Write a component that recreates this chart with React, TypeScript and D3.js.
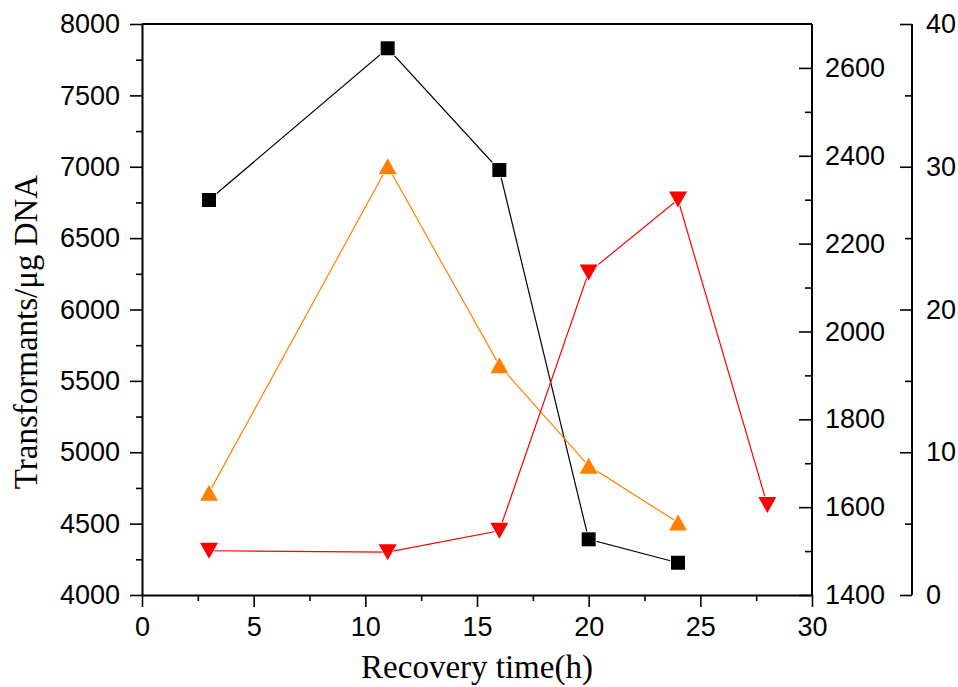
import React, { useEffect, useRef } from 'react';
import * as d3 from 'd3';

// recovery time (h)
const hours = [3, 11, 16, 20, 24];
const redHours = [3, 11, 16, 20, 24, 28];

// series values, one per axis
const blackValues = [6767, 7830, 6977, 4390, 4226];
const orangeValues = [1633, 2376, 1923, 1694, 1565];
const redValues = [3.1, 3.0, 4.5, 22.6, 27.7, 6.3];

// tick values
const xTicks = [0, 5, 10, 15, 20, 25, 30];
const leftTicks = [4000, 4500, 5000, 5500, 6000, 6500, 7000, 7500, 8000];
const midTicks = [1400, 1600, 1800, 2000, 2200, 2400, 2600];
const farTicks = [0, 10, 20, 30, 40];

const SANS = '"Liberation Sans", Arial, sans-serif';
const SERIF = '"Liberation Serif", "Times New Roman", serif';

const App = () => {
  const ref = useRef<SVGSVGElement>(null);

  useEffect(() => {
    const svg = d3.select(ref.current);
    svg.selectAll('*').remove();

    const left = 142, right = 812, top = 24, bottom = 595, farX = 912;
    const fmt = d3.format('d');

    const x = d3.scaleLinear().domain([0, 30]).range([left, right]);
    const yL = d3.scaleLinear().domain([4000, 8000]).range([bottom, top]);
    const yM = d3.scaleLinear().domain([1400, 2700]).range([bottom, top]);
    const yR = d3.scaleLinear().domain([0, 40]).range([bottom, top]);

    const styleAxis = (g, size = 27) => {
      g.select('.domain').attr('stroke-width', 2);
      g.selectAll('line').attr('stroke-width', 1.6);
      g.selectAll('text').style('font-family', SANS).style('font-size', `${size}px`).attr('fill', '#000');
    };

    // x axis with minor ticks
    svg.append('g')
      .attr('transform', `translate(0,${bottom})`)
      .call(d3.axisBottom(x).tickValues(d3.range(2.5, 30, 5)).tickSize(6).tickFormat(() => ''))
      .call(g => g.select('.domain').remove())
      .call(g => g.selectAll('line').attr('stroke-width', 1.6));
    svg.append('g')
      .attr('transform', `translate(0,${bottom})`)
      .call(d3.axisBottom(x).tickValues(xTicks).tickFormat(fmt).tickSizeInner(12).tickSizeOuter(0).tickPadding(10))
      .call(g => styleAxis(g));

    // left axis
    svg.append('g')
      .attr('transform', `translate(${left},0)`)
      .call(d3.axisLeft(yL).tickValues(d3.range(4250, 8000, 500)).tickSize(6).tickFormat(() => ''))
      .call(g => g.select('.domain').remove())
      .call(g => g.selectAll('line').attr('stroke-width', 1.6));
    svg.append('g')
      .attr('transform', `translate(${left},0)`)
      .call(d3.axisLeft(yL).tickValues(leftTicks).tickFormat(fmt).tickSizeInner(12).tickSizeOuter(0).tickPadding(10))
      .call(g => styleAxis(g));

    // top border
    svg.append('line')
      .attr('x1', left).attr('x2', right).attr('y1', top).attr('y2', top)
      .attr('stroke', '#000').attr('stroke-width', 2);

    // middle right axis: ticks inward, labels outside
    svg.append('g')
      .attr('transform', `translate(${right},0)`)
      .call(d3.axisLeft(yM).tickValues(d3.range(1500, 2700, 200)).tickSize(7).tickFormat(() => ''))
      .call(g => g.select('.domain').remove())
      .call(g => g.selectAll('line').attr('stroke-width', 1.6));
    svg.append('g')
      .attr('transform', `translate(${right},0)`)
      .call(d3.axisLeft(yM).tickValues(midTicks).tickSizeInner(13).tickSizeOuter(0).tickFormat(() => ''))
      .call(g => g.selectAll('line').attr('stroke-width', 1.6))
      .call(g => g.select('.domain').attr('d', `M0,${top}V${bottom}`).attr('stroke-width', 2));
    svg.append('g')
      .attr('transform', `translate(${right},0)`)
      .call(d3.axisRight(yM).tickValues(midTicks).tickFormat(fmt).tickSize(0).tickPadding(13))
      .call(g => g.select('.domain').remove())
      .call(g => styleAxis(g));

    // far right axis
    svg.append('g')
      .attr('transform', `translate(${farX},0)`)
      .call(d3.axisLeft(yR).tickValues(d3.range(5, 40, 10)).tickSize(7).tickFormat(() => ''))
      .call(g => g.select('.domain').remove())
      .call(g => g.selectAll('line').attr('stroke-width', 1.6));
    svg.append('g')
      .attr('transform', `translate(${farX},0)`)
      .call(d3.axisLeft(yR).tickValues(farTicks).tickSizeInner(12).tickSizeOuter(0).tickFormat(() => ''))
      .call(g => g.selectAll('line').attr('stroke-width', 1.6))
      .call(g => g.select('.domain').attr('d', `M0,${top}V${bottom}`).attr('stroke-width', 2));
    svg.append('g')
      .attr('transform', `translate(${farX},0)`)
      .call(d3.axisRight(yR).tickValues(farTicks).tickFormat(fmt).tickSize(0).tickPadding(14))
      .call(g => g.select('.domain').remove())
      .call(g => styleAxis(g));

    // axis titles
    svg.append('text')
      .attr('x', 477)
      .attr('y', 678)
      .attr('text-anchor', 'middle')
      .style('font-family', SERIF)
      .style('font-size', '33px')
      .text('Recovery time(h)');

    svg.append('text')
      .attr('transform', 'translate(37,332) rotate(-90)')
      .attr('text-anchor', 'middle')
      .style('font-family', SERIF)
      .style('font-size', '33px')
      .text('Transformants/μg DNA');

    // series
    const series = [
      { xs: hours, ys: blackValues, scale: yL, color: '#000000', shape: 'square' },
      { xs: hours, ys: orangeValues, scale: yM, color: '#FF8000', shape: 'up' },
      { xs: redHours, ys: redValues, scale: yR, color: '#FF0000', shape: 'down' },
    ];

    const shapes = {
      square: 'M-7,-7H7V7H-7Z',
      up: 'M0,-8L9,8L-9,8Z',
      down: 'M0,8L9,-8L-9,-8Z',
    };

    series.forEach(s => {
      const pts = s.xs.map((h, i) => [x(h), s.scale(s.ys[i])] as [number, number]);
      svg.append('path')
        .datum(pts)
        .attr('fill', 'none')
        .attr('stroke', s.color)
        .attr('stroke-width', 1.2)
        .attr('d', d3.line());
    });

    series.forEach(s => {
      svg.append('g')
        .selectAll('path')
        .data(s.xs.map((h, i) => [x(h), s.scale(s.ys[i])]))
        .join('path')
        .attr('transform', d => `translate(${d[0]},${d[1]})`)
        .attr('d', shapes[s.shape])
        .attr('fill', s.color)
        .attr('stroke', '#fff')
        .attr('stroke-width', 1.5)
        .attr('paint-order', 'stroke');
    });
  }, []);

  return (
    <svg
      ref={ref}
      width={958}
      height={687}
      style={{ position: 'absolute', left: 0, top: 0, background: '#fff' }}
    />
  );
};

export default App;
